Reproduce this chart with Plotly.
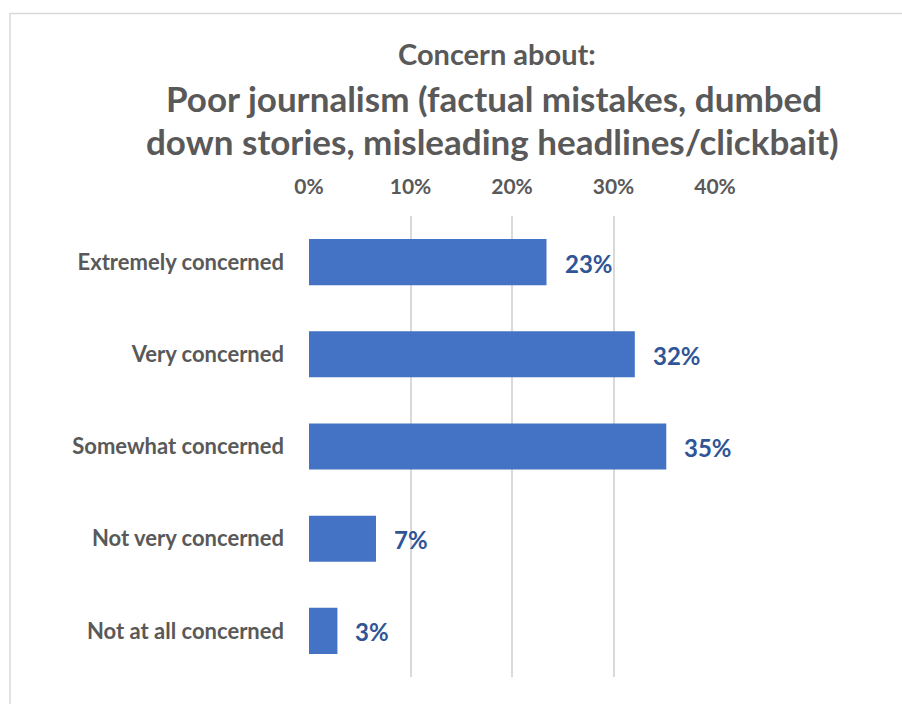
import plotly.graph_objects as go

categories = ["Extremely concerned", "Very concerned", "Somewhat concerned",
              "Not very concerned", "Not at all concerned"]
values = [0.234, 0.321, 0.352, 0.066, 0.028]
labels = ["23%", "32%", "35%", "7%", "3%"]
tick_vals = [0, 0.1, 0.2, 0.3, 0.4]
tick_text = ["0%", "10%", "20%", "30%", "40%"]

W, H = 902, 704
ml, mr, mt, mb = 309, 187, 216, 27
pw, ph = W - ml - mr, H - mt - mb

def px_x(x):
    return (x - ml) / pw

def px_y(y):
    return (H - mb - y) / ph

FONT = "Lato"
GRAY = "#595959"

fig = go.Figure(go.Bar(
    x=values, y=categories, orientation="h",
    marker=dict(color="#4472C4", line=dict(width=0)),
    width=0.5, hoverinfo="x+y",
))

label_annotations = [
    dict(x=v, y=c, xref="x", yref="y", text=t, showarrow=False,
         xanchor="left", yanchor="middle", xshift=16, yshift=-1,
         font=dict(family=FONT, size=24, color="#2F5597", weight="bold"))
    for v, c, t in zip(values, categories, labels)
]

title_annotations = [
    dict(text="Concern about:", xref="paper", yref="paper", x=px_x(497), y=px_y(53),
         xanchor="center", yanchor="middle", showarrow=False,
         font=dict(family=FONT, size=29, color=GRAY, weight="bold")),
    dict(text="Poor journalism (factual mistakes, dumbed", xref="paper", yref="paper",
         x=px_x(494), y=px_y(98), xanchor="center", yanchor="middle", showarrow=False,
         font=dict(family=FONT, size=35, color=GRAY, weight="bold")),
    dict(text="down stories, misleading headlines/clickbait)", xref="paper", yref="paper",
         x=px_x(492), y=px_y(141), xanchor="center", yanchor="middle", showarrow=False,
         font=dict(family=FONT, size=35, color=GRAY, weight="bold")),
]

fig.update_layout(
    width=W, height=H,
    margin=dict(l=ml, r=mr, t=mt, b=mb),
    paper_bgcolor="white", plot_bgcolor="white",
    showlegend=False,
    xaxis=dict(range=[0, 0.4], side="top", tickvals=tick_vals, ticktext=tick_text,
               showgrid=True, gridcolor="#d9d9d9", gridwidth=1.5, zeroline=False,
               showline=False, ticks="",
               tickfont=dict(family=FONT, size=21, color=GRAY, weight="bold"),
               ticklabelstandoff=17),
    yaxis=dict(autorange="reversed", showgrid=False, showline=False, ticks="",
               tickfont=dict(family=FONT, size=22, color=GRAY, weight="bold"),
               ticklabelstandoff=24),
    shapes=[dict(type="rect", xref="paper", yref="paper",
                 x0=px_x(10), x1=px_x(905), y0=px_y(710), y1=px_y(13.5),
                 line=dict(color="#d9d9d9", width=1.5), layer="below")],
    annotations=title_annotations + label_annotations,
)

fig.write_html("out.html")
